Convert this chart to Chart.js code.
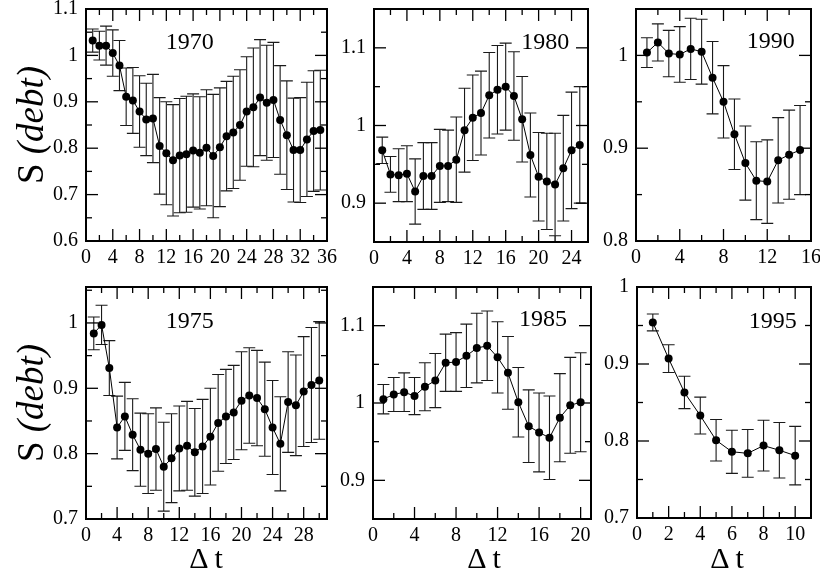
<!DOCTYPE html>
<html>
<head>
<meta charset="utf-8">
<script src="https://cdn.jsdelivr.net/npm/chart.js@4.4.1/dist/chart.umd.min.js"></script>
<style>
  body { margin: 0; background: #fff; width: 820px; height: 577px; overflow: hidden; position: relative; font-family: "Liberation Serif", serif; }
  canvas { position: absolute; left: 0; top: 0; }
  .ylab { position: absolute; font-size: 37px; line-height: 1; white-space: nowrap; transform: translate(-50%, -50%) rotate(-90deg); }
  .xlab { position: absolute; font-size: 30px; line-height: 1; white-space: nowrap; transform: translate(-50%, -50%); }
</style>
</head>
<body>
<canvas id="c1970" width="820" height="577"></canvas>
<canvas id="c1980" width="820" height="577"></canvas>
<canvas id="c1990" width="820" height="577"></canvas>
<canvas id="c1975" width="820" height="577"></canvas>
<canvas id="c1985" width="820" height="577"></canvas>
<canvas id="c1995" width="820" height="577"></canvas>
<div class="ylab" style="left:30px; top:125px">S <i>(debt)</i></div>
<div class="ylab" style="left:30px; top:403px">S <i>(debt)</i></div>
<div class="xlab" style="left:206px; top:558px">&Delta; t</div>
<div class="xlab" style="left:484px; top:558px">&Delta; t</div>
<div class="xlab" style="left:727px; top:558px">&Delta; t</div>
<script>
// time lag (Delta t) values
const dt = [1,2,3,4,5,6,7,8,9,10,11,12,13,14,15,16,17,18,19,20,21,22,23,24,25,26,27,28,29,30,31,32,33,34,35];

// S(debt) and error bar half-widths, per starting year
const s1970 = [1.032,1.021,1.021,1.005,0.978,0.911,0.903,0.879,0.862,0.864,0.805,0.789,0.774,0.784,0.787,0.795,0.790,0.801,0.783,0.802,0.826,0.834,0.850,0.879,0.888,0.909,0.898,0.904,0.861,0.828,0.796,0.796,0.819,0.837,0.839];
const e1970 = [0.025,0.031,0.042,0.050,0.054,0.062,0.071,0.077,0.078,0.095,0.104,0.111,0.120,0.123,0.125,0.122,0.121,0.125,0.133,0.128,0.118,0.121,0.119,0.118,0.128,0.125,0.124,0.124,0.117,0.117,0.112,0.113,0.123,0.130,0.129];

const s1975 = [0.984,0.997,0.931,0.840,0.857,0.829,0.806,0.800,0.807,0.780,0.793,0.808,0.812,0.802,0.811,0.826,0.847,0.857,0.863,0.881,0.889,0.885,0.868,0.840,0.815,0.879,0.874,0.895,0.905,0.912];
const e1975 = [0.025,0.030,0.042,0.048,0.052,0.055,0.056,0.061,0.063,0.068,0.068,0.065,0.068,0.067,0.072,0.074,0.074,0.072,0.072,0.075,0.073,0.073,0.072,0.072,0.072,0.077,0.077,0.084,0.088,0.090];

const s1980 = [0.968,0.937,0.936,0.938,0.915,0.935,0.935,0.948,0.948,0.956,0.994,1.010,1.016,1.039,1.046,1.050,1.038,1.008,0.962,0.934,0.928,0.924,0.945,0.968,0.975];
const e1980 = [0.017,0.023,0.034,0.036,0.042,0.043,0.043,0.047,0.046,0.055,0.054,0.055,0.054,0.055,0.057,0.056,0.057,0.055,0.054,0.057,0.062,0.066,0.068,0.075,0.075];

const s1985 = [1.005,1.011,1.014,1.009,1.021,1.029,1.052,1.053,1.061,1.071,1.074,1.059,1.039,1.001,0.970,0.962,0.955,0.981,0.997,1.001];
const e1985 = [0.019,0.022,0.025,0.024,0.031,0.035,0.037,0.038,0.041,0.045,0.045,0.046,0.047,0.045,0.047,0.051,0.054,0.057,0.062,0.064];

const s1990 = [1.003,1.014,1.002,1.001,1.007,1.004,0.976,0.950,0.915,0.884,0.865,0.864,0.887,0.893,0.898];
const e1990 = [0.016,0.020,0.025,0.030,0.033,0.035,0.039,0.039,0.038,0.040,0.042,0.045,0.046,0.048,0.048];

const s1995 = [0.954,0.907,0.863,0.833,0.801,0.786,0.784,0.794,0.788,0.781];
const e1995 = [0.011,0.018,0.021,0.024,0.027,0.028,0.031,0.033,0.036,0.038];

// tick labels
const xTicks36 = [0,4,8,12,16,20,24,28,32,36];
const xTicks28 = [0,4,8,12,16,20,24,28];
const xTicks24 = [0,4,8,12,16,20,24];
const xTicks20 = [0,4,8,12,16,20];
const xTicks16 = [0,4,8,12,16];
const xTicks10 = [0,2,4,6,8,10];
const yTicks1970 = [0.6,0.7,0.8,0.9,1,1.1];
const yTicks1975 = [0.7,0.8,0.9,1];
const yTicks1980 = [0.9,1,1.1];
const yTicks1990 = [0.8,0.9,1];
const yTicks1995 = [0.7,0.8,0.9,1];

const FONT = '"Liberation Serif", "Times New Roman", serif';

function decor(p) {
  // error bars, boxed frame with inward ticks on all sides, and the year label
  return {
    id: 'decor',
    beforeDatasetsDraw(chart) {
      const { ctx } = chart;
      const xs = chart.scales.x, ys = chart.scales.y;
      ctx.save();
      ctx.strokeStyle = '#1a1a1a';
      ctx.lineWidth = 1.1;
      p.s.forEach((v, i) => {
        const px = xs.getPixelForValue(dt[i]);
        const top = ys.getPixelForValue(v + p.e[i]);
        const bot = ys.getPixelForValue(v - p.e[i]);
        ctx.beginPath();
        ctx.moveTo(px, top); ctx.lineTo(px, bot);
        ctx.moveTo(px - 6, top); ctx.lineTo(px + 6, top);
        ctx.moveTo(px - 6, bot); ctx.lineTo(px + 6, bot);
        ctx.stroke();
      });
      ctx.restore();
    },
    afterDraw(chart) {
      const { ctx, chartArea: a } = chart;
      const xs = chart.scales.x, ys = chart.scales.y;
      ctx.save();
      ctx.strokeStyle = '#000';
      ctx.lineWidth = 1.3;
      const tick = (x1, y1, x2, y2) => { ctx.beginPath(); ctx.moveTo(x1, y1); ctx.lineTo(x2, y2); ctx.stroke(); };
      for (let v = 0; v <= p.xMax + 1e-9; v += p.xMinor) {
        const major = p.xTicks.some(t => Math.abs(t - v) < 1e-6);
        const len = major ? 12 : 6;
        const px = xs.getPixelForValue(v);
        if (px <= a.left + 0.5 || px >= a.right - 0.5) continue;
        tick(px, a.bottom, px, a.bottom - len);
        tick(px, a.top, px, a.top + len);
      }
      for (let v = p.yMin; v <= p.yMax + 1e-9; v += 0.05) {
        const vv = Math.round(v * 100) / 100;
        const major = p.yTicks.some(t => Math.abs(t - vv) < 1e-6);
        const len = major ? 12 : 6;
        const py = ys.getPixelForValue(vv);
        if (py <= a.top + 0.5 || py >= a.bottom - 0.5) continue;
        tick(a.left, py, a.left + len, py);
        tick(a.right, py, a.right - len, py);
      }
      ctx.lineWidth = 2;
      ctx.strokeRect(a.left, a.top, a.right - a.left, a.bottom - a.top);
      ctx.fillStyle = '#000';
      ctx.font = '24px ' + FONT;
      ctx.textAlign = 'center';
      ctx.textBaseline = 'middle';
      ctx.fillText(p.year, a.left + p.fx * (a.right - a.left), a.top + p.fy * (a.bottom - a.top));
      ctx.restore();
    }
  };
}

function makePanel(id, p) {
  const yAxisW = 60, xAxisH = 30;
  new Chart(document.getElementById(id), {
    type: 'line',
    data: {
      datasets: [{
        data: p.s.map((v, i) => ({ x: dt[i], y: v })),
        borderColor: '#000',
        borderWidth: 1,
        pointRadius: 4,
        pointBackgroundColor: '#000',
        pointBorderColor: '#000',
        pointBorderWidth: 0,
        tension: 0
      }]
    },
    options: {
      responsive: false,
      animation: false,
      events: [],
      layout: {
        padding: { left: p.area.l - yAxisW, top: p.area.t, right: 820 - p.area.r, bottom: 577 - p.area.b - xAxisH }
      },
      plugins: { legend: { display: false }, tooltip: { enabled: false } },
      scales: {
        x: {
          type: 'linear', min: 0, max: p.xMax,
          grid: { display: false, drawTicks: false },
          border: { display: false },
          afterBuildTicks: s => { s.ticks = p.xTicks.map(v => ({ value: v })); },
          afterFit: s => { s.height = xAxisH; s.paddingLeft = 0; s.paddingRight = 0; },
          ticks: { padding: 5, color: '#000', maxRotation: 0, autoSkip: false, font: { family: FONT, size: 20 }, callback: v => String(v) }
        },
        y: {
          type: 'linear', min: p.yMin, max: p.yMax,
          grid: { display: false, drawTicks: false },
          border: { display: false },
          afterBuildTicks: s => { s.ticks = p.yTicks.map(v => ({ value: v })); },
          afterFit: s => { s.width = yAxisW; s.paddingTop = 0; s.paddingBottom = 0; },
          ticks: { padding: 8, color: '#000', autoSkip: false, font: { family: FONT, size: 20 }, callback: v => String(Math.round(v * 100) / 100) }
        }
      }
    },
    plugins: [decor(p)]
  });
}

makePanel('c1970', { s: s1970, e: e1970, year: '1970', xMax: 36, xMinor: 2, xTicks: xTicks36, yMin: 0.6, yMax: 1.1, yTicks: yTicks1970,
  area: { l: 86, t: 9, r: 327, b: 241 }, fx: 0.43, fy: 0.147 });
makePanel('c1980', { s: s1980, e: e1980, year: '1980', xMax: 26, xMinor: 2, xTicks: xTicks24, yMin: 0.85, yMax: 1.15, yTicks: yTicks1980,
  area: { l: 374, t: 9, r: 588, b: 242 }, fx: 0.80, fy: 0.146 });
makePanel('c1990', { s: s1990, e: e1990, year: '1990', xMax: 16, xMinor: 2, xTicks: xTicks16, yMin: 0.8, yMax: 1.05, yTicks: yTicks1990,
  area: { l: 636, t: 9, r: 811, b: 241 }, fx: 0.77, fy: 0.14 });
makePanel('c1975', { s: s1975, e: e1975, year: '1975', xMax: 31, xMinor: 2, xTicks: xTicks28, yMin: 0.7, yMax: 1.055, yTicks: yTicks1975,
  area: { l: 86, t: 287, r: 327, b: 519 }, fx: 0.43, fy: 0.15 });
makePanel('c1985', { s: s1985, e: e1985, year: '1985', xMax: 21, xMinor: 2, xTicks: xTicks20, yMin: 0.85, yMax: 1.15, yTicks: yTicks1980,
  area: { l: 373, t: 287, r: 591, b: 519 }, fx: 0.78, fy: 0.14 });
makePanel('c1995', { s: s1995, e: e1995, year: '1995', xMax: 11, xMinor: 1, xTicks: xTicks10, yMin: 0.7, yMax: 1.0, yTicks: yTicks1995,
  area: { l: 637, t: 287, r: 811, b: 518 }, fx: 0.78, fy: 0.15 });
</script>
</body>
</html>
